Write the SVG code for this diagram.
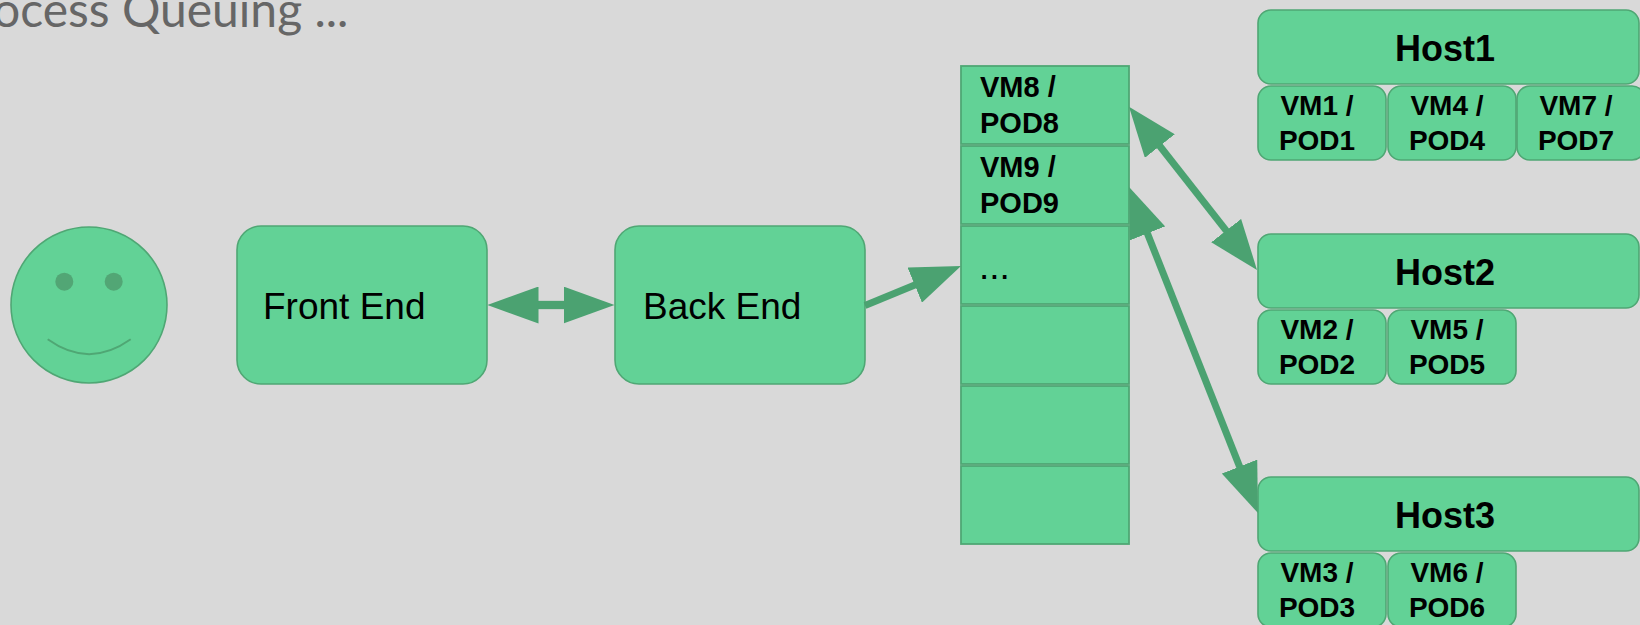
<svg xmlns="http://www.w3.org/2000/svg" width="1640" height="625" viewBox="0 0 1640 625">
  <defs>
    <style>
      .bg { fill: #d9d9d9; }
      .box { fill: #62d296; stroke: #4fa774; stroke-width: 1.6; }
      .cell { fill: #62d296; stroke: #4fa774; stroke-width: 1.8; }
      .big { font-family: "Liberation Sans", Arial, sans-serif; font-size: 37px; fill: #000; }
      .host { font-family: "Liberation Sans", Arial, sans-serif; font-size: 36px; font-weight: bold; fill: #000; text-anchor: middle; }
      .vm { font-family: "Liberation Sans", Arial, sans-serif; font-size: 28px; font-weight: bold; fill: #000; text-anchor: middle; }
      .qvm { font-family: "Liberation Sans", Arial, sans-serif; font-size: 29px; font-weight: bold; fill: #000; }
      .title { font-family: Lato, "Open Sans", sans-serif; font-size: 48px; fill: #666666; }
      .conn { stroke: #4ba271; stroke-width: 7; fill: none; }
      .conn2 { stroke: #4ba271; stroke-width: 8.3; fill: none; }
    </style>
    <marker id="ah" markerUnits="userSpaceOnUse" markerWidth="50" markerHeight="38" viewBox="0 0 50 38" refX="2" refY="19" orient="auto-start-reverse">
      <path d="M0,0 L50,19 L0,38 z" fill="#4ba271"/>
    </marker>
    <marker id="ah2" markerUnits="userSpaceOnUse" markerWidth="51" markerHeight="37" viewBox="0 0 51 37" refX="2" refY="18.5" orient="auto-start-reverse">
      <path d="M0,0 L51,18.5 L0,37 z" fill="#4ba271"/>
    </marker>
  </defs>

  <rect class="bg" x="0" y="0" width="1640" height="625"/>

  <text class="title" x="-7" y="27">ocess Queuing ...</text>

  <g id="user">
    <circle cx="89" cy="305" r="78" fill="#62d296" stroke="#4fa774" stroke-width="1.6"/>
    <circle cx="64.3" cy="281.7" r="9" fill="#52a675"/>
    <circle cx="113.7" cy="281.7" r="9" fill="#52a675"/>
    <path d="M47.7,339.3 Q89,369 130.7,339.3" fill="none" stroke="#4fa774" stroke-width="2"/>
  </g>

  <g id="frontend">
    <rect class="box" x="237" y="226" width="250" height="158" rx="24"/>
    <text class="big" x="263" y="319">Front End</text>
  </g>

  <g id="backend">
    <rect class="box" x="615" y="226" width="250" height="158" rx="24"/>
    <text class="big" x="643" y="319">Back End</text>
  </g>

  <g id="queue">
    <g id="q-vm8">
      <rect class="cell" x="961" y="66" width="168" height="78"/>
      <text class="qvm" x="980" y="96.7">VM8 /</text>
      <text class="qvm" x="980" y="132.7">POD8</text>
    </g>
    <g id="q-vm9">
      <rect class="cell" x="961" y="146" width="168" height="78"/>
      <text class="qvm" x="980" y="176.7">VM9 /</text>
      <text class="qvm" x="980" y="212.7">POD9</text>
    </g>
    <g id="q-more">
      <rect class="cell" x="961" y="226" width="168" height="78"/>
      <text class="big" x="979" y="279">...</text>
    </g>
    <g id="q-4"><rect class="cell" x="961" y="306" width="168" height="78"/></g>
    <g id="q-5"><rect class="cell" x="961" y="386" width="168" height="78"/></g>
    <g id="q-6"><rect class="cell" x="961" y="466" width="168" height="78"/></g>
  </g>

  <g id="host1">
    <rect class="box" x="1258" y="10" width="381" height="74" rx="13"/>
    <text class="host" x="1445" y="61">Host1</text>
    <g id="vm1">
      <rect class="box" x="1258" y="86" width="128" height="74" rx="13"/>
      <text class="vm" x="1317" y="115">VM1 /</text>
      <text class="vm" x="1317" y="150">POD1</text>
    </g>
    <g id="vm4">
      <rect class="box" x="1388" y="86" width="128" height="74" rx="13"/>
      <text class="vm" x="1447" y="115">VM4 /</text>
      <text class="vm" x="1447" y="150">POD4</text>
    </g>
    <g id="vm7">
      <rect class="box" x="1517" y="86" width="128" height="74" rx="13"/>
      <text class="vm" x="1576" y="115">VM7 /</text>
      <text class="vm" x="1576" y="150">POD7</text>
    </g>
  </g>

  <g id="host2">
    <rect class="box" x="1258" y="234" width="381" height="74" rx="13"/>
    <text class="host" x="1445" y="285">Host2</text>
    <g id="vm2">
      <rect class="box" x="1258" y="310" width="128" height="74" rx="13"/>
      <text class="vm" x="1317" y="339">VM2 /</text>
      <text class="vm" x="1317" y="374">POD2</text>
    </g>
    <g id="vm5">
      <rect class="box" x="1388" y="310" width="128" height="74" rx="13"/>
      <text class="vm" x="1447" y="339">VM5 /</text>
      <text class="vm" x="1447" y="374">POD5</text>
    </g>
  </g>

  <g id="host3">
    <rect class="box" x="1258" y="477" width="381" height="74" rx="13"/>
    <text class="host" x="1445" y="528">Host3</text>
    <g id="vm3">
      <rect class="box" x="1258" y="553" width="128" height="74" rx="13"/>
      <text class="vm" x="1317" y="582">VM3 /</text>
      <text class="vm" x="1317" y="617">POD3</text>
    </g>
    <g id="vm6">
      <rect class="box" x="1388" y="553" width="128" height="74" rx="13"/>
      <text class="vm" x="1447" y="582">VM6 /</text>
      <text class="vm" x="1447" y="617">POD6</text>
    </g>
  </g>

  <g id="connectors">
    <line class="conn2" x1="536.5" y1="305" x2="565.5" y2="305" marker-start="url(#ah2)" marker-end="url(#ah2)"/>
    <line class="conn" x1="865" y1="305.5" x2="916.6" y2="284.3" marker-end="url(#ah)"/>
    <line class="conn" x1="1158.6" y1="144.5" x2="1227.4" y2="232.2" marker-start="url(#ah)" marker-end="url(#ah)"/>
    <line class="conn" x1="1146.7" y1="231.6" x2="1240.3" y2="468.4" marker-start="url(#ah)" marker-end="url(#ah)"/>
  </g>
</svg>
